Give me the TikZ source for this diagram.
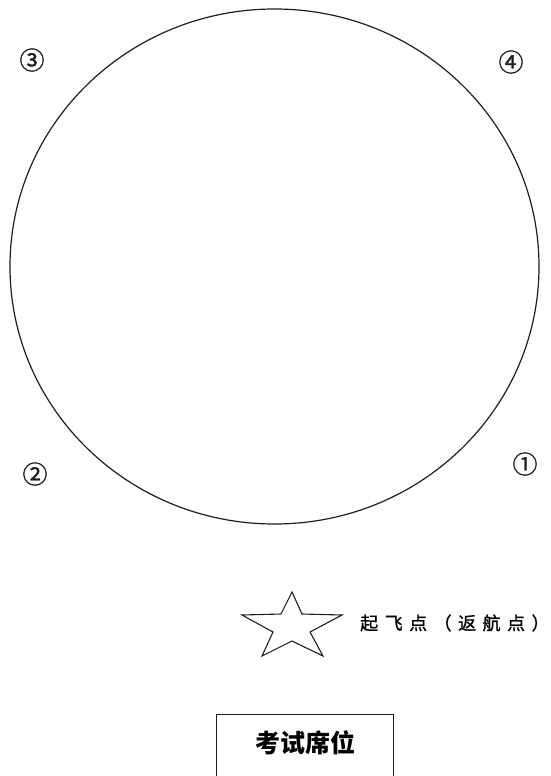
\documentclass[tikz,border=0pt]{standalone}
\usepackage{fontspec}
\usetikzlibrary{shapes.geometric}
\newfontfamily\cjk{Noto Sans CJK SC}
\definecolor{inkgray}{RGB}{30,30,30}
\tikzset{
  field/.style={draw=inkgray, line width=1.2pt, ellipse, inner sep=0pt,
                minimum width=529pt, minimum height=515pt},
  num/.style={font=\cjk\fontsize{25}{25}\selectfont\addfontfeature{FakeBold=1.2}, text=inkgray, inner sep=0pt},
  starline/.style={draw=inkgray, line width=1.1pt, line join=miter},
  startext/.style={font=\cjk\fontsize{18}{18}\selectfont\addfontfeature{LetterSpace=36,FakeBold=1}, anchor=west, inner sep=0pt},
  seatbox/.style={draw=inkgray, line width=1.4pt, minimum width=176.6pt, minimum height=120pt, anchor=north, inner sep=0pt},
  seattext/.style={font=\cjk\bfseries\fontsize{25}{25}\selectfont, inner sep=0pt}
}
\begin{document}
\begin{tikzpicture}[x=1pt,y=-1pt]
\useasboundingbox (0,0) rectangle (551,776);
\node[field] (fld) at (274.5,266.5) {};
\node[num] (n3) at (32,60) {③};
\node[num] (n4) at (511,62) {④};
\node[num] (n2) at (35,474) {②};
\node[num] (n1) at (525,464) {①};
\draw[starline] (292,592) -- (302,614) -- (342,615) -- (310,632) -- (323,656) -- (292,641)
  -- (262,656) -- (273,632) -- (242,615) -- (281,614) -- cycle;
\node[startext] (home) at (360,623) {起飞点（返航点）};
\node[seatbox] (seat) at (305,714) {};
\node[seattext] (seatlbl) at (305,743) {考试席位};
\end{tikzpicture}
\end{document}
